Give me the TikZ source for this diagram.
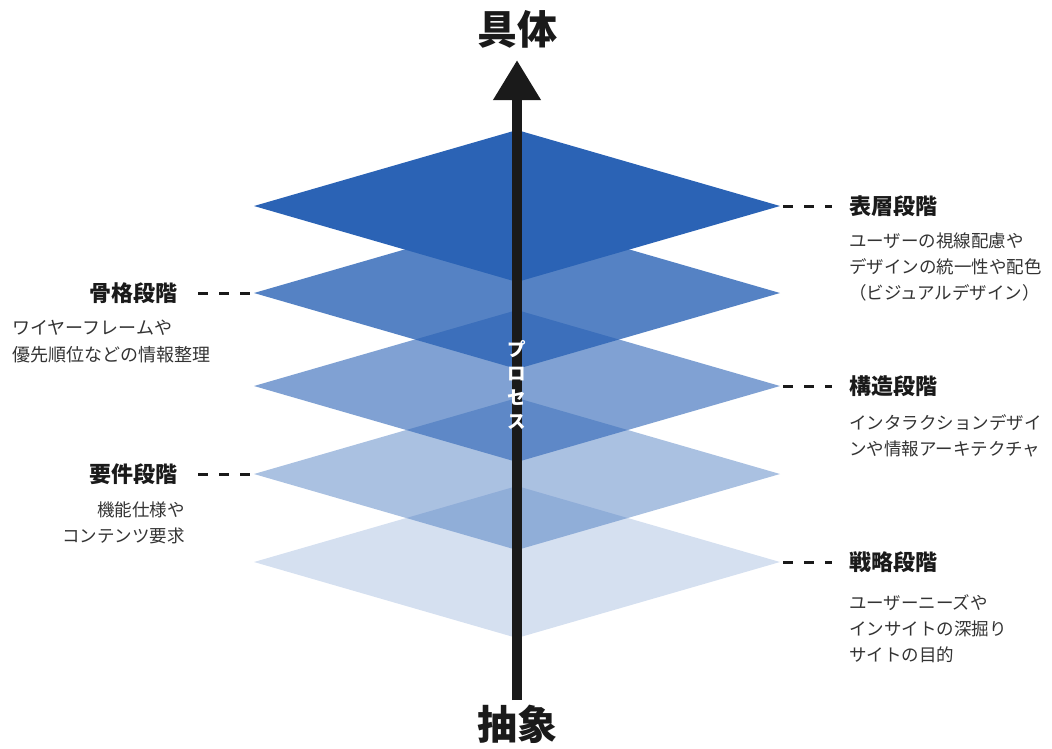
\documentclass[tikz,border=0pt]{standalone}
\usepackage{fontspec}
\setmainfont{Noto Sans CJK JP}
\usepackage{tikz}
\usetikzlibrary{arrows.meta}

\definecolor{layerblue}{HTML}{2B63B5}
\definecolor{ink}{HTML}{1A1A1A}
\definecolor{note}{HTML}{333333}

\tikzset{
  stage/.style={inner sep=0pt, text=ink, font=\fontsize{22}{26}\selectfont\bfseries},
  memo/.style={inner sep=0pt, text=note, font=\fontsize{17.5}{26}\selectfont},
  leader/.style={ink, line width=3pt, dash pattern=on 10pt off 11pt},
  pole/.style={inner sep=0pt, text=ink, font=\fontsize{40}{44}\selectfont\bfseries}
}

\begin{document}
\begin{tikzpicture}[x=1pt,y=-1pt]

\useasboundingbox (0,0) rectangle (1052,748);

% Stacked layers, from the bottom one up
\foreach \i/\cy/\op in {5/562/0.2,4/474/0.4,3/386/0.6,2/293/0.8,1/206/1} {
  \fill [layerblue, fill opacity=\op] (254,\cy) -- (517,\cy-76) -- (780,\cy) -- (517,\cy+76) -- cycle;
  \coordinate (L\i) at (254,\cy);
  \coordinate (R\i) at (780,\cy);
}

% Process axis
\coordinate (base) at (517,700);
\coordinate (tip) at (517,60);
\draw [ink, line width=10.5pt, -{Triangle[length=40pt,width=45pt]}] (base) -- (tip);

\node [pole] (concrete) at (517,29) {具体};
\node [pole] (abstract) at (517,724) {抽象};

\node [inner sep=0pt, text=white, align=center, font=\fontsize{18.5}{24}\selectfont\bfseries]
  (process) at (517,385) {プ\\ロ\\セ\\ス};

% Stage labels on the right
\node [stage, anchor=west] (surface) at (849,206) {表層段階};
\node [memo, anchor=north west, align=left] (surfacememo) at (849,233)
  {ユーザーの視線配慮や\\デザインの統一性や配色\\（ビジュアルデザイン）};

\node [stage, anchor=west] (structure) at (849,386) {構造段階};
\node [memo, anchor=north west, align=left] (structurememo) at (849,414)
  {インタラクションデザイ\\ンや情報アーキテクチャ};

\node [stage, anchor=west] (strategy) at (849,562) {戦略段階};
\node [memo, anchor=north west, align=left] (strategymemo) at (849,594)
  {ユーザーニーズや\\インサイトの深掘り\\サイトの目的};

% Stage labels on the left
\node [stage, anchor=east] (skeleton) at (178,293) {骨格段階};
\node [memo, anchor=north west, align=left, font=\fontsize{18}{27}\selectfont] (skeletonmemo) at (12,320)
  {ワイヤーフレームや\\優先順位などの情報整理};

\node [stage, anchor=east] (scope) at (178,474) {要件段階};
\node [memo, anchor=north east, align=right] (scopememo) at (185,502)
  {機能仕様や\\コンテンツ要求};

% Dashed leaders
\draw [leader, shorten <=3pt, shorten >=17pt] (R1) -- (surface.west);
\draw [leader, shorten <=3pt, shorten >=17pt] (R3) -- (structure.west);
\draw [leader, shorten <=3pt, shorten >=17pt] (R5) -- (strategy.west);
\draw [leader, shorten <=20pt, shorten >=1pt] (skeleton.east) -- (L2);
\draw [leader, shorten <=20pt, shorten >=1pt] (scope.east) -- (L4);

\end{tikzpicture}
\end{document}
